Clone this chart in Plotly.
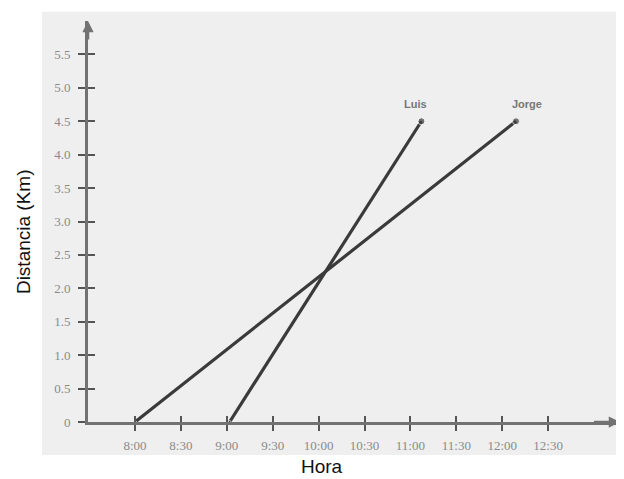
import plotly.graph_objects as go

# time in hours (decimal), distance in km
hours_luis = [9.03, 11.12]
dist_luis = [0, 4.5]
hours_jorge = [8.0, 12.15]
dist_jorge = [0, 4.5]

x_ticks = [8, 8.5, 9, 9.5, 10, 10.5, 11, 11.5, 12, 12.5]
x_labels = ["8:00", "8:30", "9:00", "9:30", "10:00", "10:30", "11:00", "11:30", "12:00", "12:30"]
y_ticks = [0, 0.5, 1, 1.5, 2, 2.5, 3, 3.5, 4, 4.5, 5, 5.5]
y_labels = ["0", "0.5", "1.0", "1.5", "2.0", "2.5", "3.0", "3.5", "4.0", "4.5", "5.0", "5.5"]

X_RANGE = [7.488, 13.283]
Y_RANGE = [0, 6.0]
LINE = "#3a3a3a"
AXIS = "#727272"
TICKFONT = dict(family="Liberation Serif", size=13, color="#8a8a8a")

fig = go.Figure()

for name, xs, ys, dx in [("Luis", hours_luis, dist_luis, -0.07),
                         ("Jorge", hours_jorge, dist_jorge, 0.12)]:
    fig.add_trace(go.Scatter(
        x=xs, y=ys, mode="lines+markers", name=name,
        line=dict(color=LINE, width=3.2),
        marker=dict(color=LINE, size=[3, 7]),
        cliponaxis=False, showlegend=False))
    # label above the end point
    fig.add_annotation(x=xs[-1] + dx, y=ys[-1], yshift=17, text="<b>%s</b>" % name,
                       showarrow=False, font=dict(family="Liberation Sans", size=11, color="#777"))

# helper trace so the overlay axes (inside half of the ticks) get drawn
fig.add_trace(go.Scatter(x=[], y=[], xaxis="x2", yaxis="y2", showlegend=False))

# the page has an 8px body margin, so the figure is 8px smaller and shifted
fig.update_layout(
    width=616, height=471,
    margin=dict(l=80, r=4, t=13, b=57),
    paper_bgcolor="white",
    plot_bgcolor="rgba(0,0,0,0)",
    xaxis=dict(range=X_RANGE, tickvals=x_ticks, ticktext=x_labels, showgrid=False,
               zeroline=False, showline=True, linecolor=AXIS, linewidth=3,
               ticks="outside", ticklen=6, tickwidth=1.5, tickcolor="#555",
               tickfont=TICKFONT, ticklabelstandoff=3),
    yaxis=dict(range=Y_RANGE, tickvals=y_ticks, ticktext=y_labels, showgrid=False,
               zeroline=False, showline=True, linecolor=AXIS, linewidth=3,
               ticks="outside", ticklen=7, tickwidth=1.5, tickcolor="#555",
               tickfont=TICKFONT, ticklabelstandoff=5),
    xaxis2=dict(overlaying="x", matches="x", anchor="y", side="bottom",
                tickvals=x_ticks, showticklabels=False, showgrid=False, zeroline=False,
                ticks="inside", ticklen=6, tickwidth=1.5, tickcolor="#555"),
    yaxis2=dict(overlaying="y", matches="y", anchor="x", side="left",
                tickvals=y_ticks, showticklabels=False, showgrid=False, zeroline=False,
                ticks="inside", ticklen=7, tickwidth=1.5, tickcolor="#555"),
)

# light grey panel behind the chart
fig.add_shape(type="rect", xref="paper", yref="paper", layer="below",
              x0=-0.0865, x1=1.01, y0=-0.082, y1=1.023,
              fillcolor="#efefef", line_width=0)

# arrow heads at the ends of both axes
fig.add_annotation(x=X_RANGE[1], y=0, ax=X_RANGE[1] - 0.3, ay=0, axref="x", ayref="y",
                   text="", showarrow=True, arrowhead=2, arrowsize=0.9, arrowwidth=2.5,
                   arrowcolor=AXIS)
fig.add_annotation(x=X_RANGE[0], y=Y_RANGE[1], ax=X_RANGE[0], ay=Y_RANGE[1] - 0.3,
                   axref="x", ayref="y", text="", showarrow=True, arrowhead=2,
                   arrowsize=0.9, arrowwidth=2.5, arrowcolor=AXIS)

# axis titles
fig.add_annotation(xref="paper", yref="paper", x=0.44, y=-0.112, text="Hora", showarrow=False,
                   xanchor="center", yanchor="middle",
                   font=dict(family="Liberation Sans", size=19, color="#111"))
fig.add_annotation(xref="paper", yref="paper", x=-0.12, y=0.474, text="Distancia (Km)",
                   textangle=-90, showarrow=False, xanchor="center", yanchor="middle",
                   font=dict(family="Liberation Sans", size=19, color="#111"))

fig.write_html("out.html")
